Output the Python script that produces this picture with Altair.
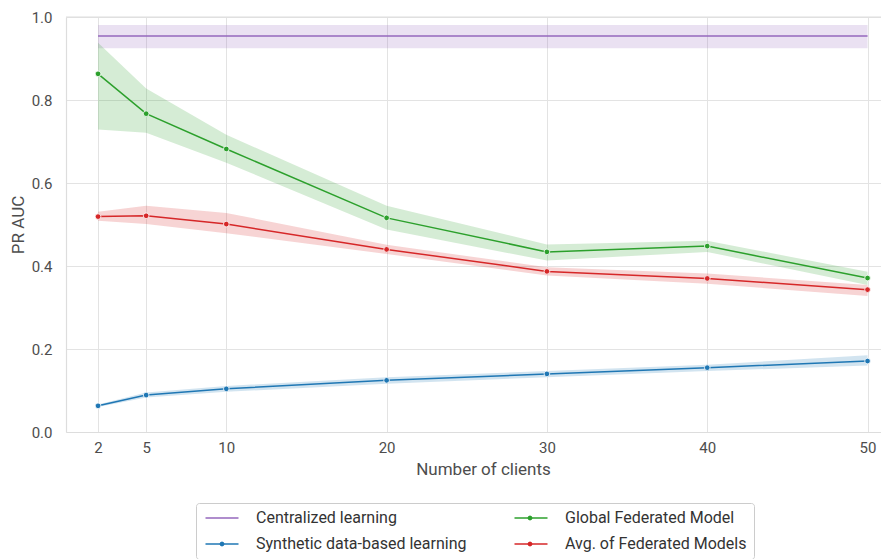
import altair as alt
import pandas as pd

clients = [2, 5, 10, 20, 30, 40, 50]

series_names = [
    "Centralized learning",
    "Synthetic data-based learning",
    "Global Federated Model",
    "Avg. of Federated Models",
]
series_colors = ["#9467bd", "#1f77b4", "#2ca02c", "#d62728"]

central_mean = [0.954, 0.954, 0.954, 0.954, 0.954, 0.954, 0.954]
central_lo = [0.925, 0.925, 0.925, 0.925, 0.925, 0.925, 0.925]
central_hi = [0.981, 0.981, 0.981, 0.981, 0.981, 0.981, 0.981]

synth_mean = [0.063, 0.089, 0.104, 0.1245, 0.140, 0.155, 0.171]
synth_lo = [0.060, 0.083, 0.097, 0.116, 0.132, 0.147, 0.160]
synth_hi = [0.066, 0.095, 0.111, 0.132, 0.147, 0.162, 0.185]

global_mean = [0.863, 0.767, 0.682, 0.516, 0.434, 0.448, 0.371]
global_lo = [0.729, 0.721, 0.649, 0.488, 0.413, 0.434, 0.354]
global_hi = [0.938, 0.828, 0.716, 0.545, 0.452, 0.461, 0.386]

avg_mean = [0.519, 0.521, 0.501, 0.440, 0.387, 0.370, 0.343]
avg_lo = [0.509, 0.501, 0.479, 0.429, 0.377, 0.357, 0.328]
avg_hi = [0.531, 0.545, 0.528, 0.451, 0.397, 0.382, 0.354]

y_ticks = [0.0, 0.2, 0.4, 0.6, 0.8, 1.0]
x_domain = [0, 50.84]

rows = []
for name, m, lo, hi in [
    (series_names[0], central_mean, central_lo, central_hi),
    (series_names[1], synth_mean, synth_lo, synth_hi),
    (series_names[2], global_mean, global_lo, global_hi),
    (series_names[3], avg_mean, avg_lo, avg_hi),
]:
    for c, a, b, d in zip(clients, m, lo, hi):
        rows.append({"series": name, "clients": c, "mean": a, "lo": b, "hi": d})
df = pd.DataFrame(rows)

FONT = "Roboto"
TXT = "#4d4d4d"

# line colours (legend order)
sscale = alt.Scale(domain=series_names, range=series_colors)
# band colours and opacities: same mapping, listed in reverse (no legend)
rev_names = series_names[::-1]
bscale = alt.Scale(domain=rev_names, range=series_colors[::-1])
oscale = alt.Scale(domain=rev_names, range=[0.2, 0.2, 0.2, 0.07])
# marker fill scale: same colours in another order (centralized has no markers)
fscale = alt.Scale(
    domain=[series_names[1], series_names[2], series_names[3], series_names[0]],
    range=[series_colors[1], series_colors[2], series_colors[3], "rgba(0,0,0,0)"],
)
xscale = alt.Scale(domain=x_domain, nice=False, zero=False)
yscale = alt.Scale(domain=[0, 1], nice=False)

x_axis = alt.Axis(
    values=clients,
    title="Number of clients",
    titleX=417,
    titlePadding=6,
    labelPadding=8,
)
y_axis = alt.Axis(values=y_ticks, format=".1f", title="PR AUC", labelPadding=14, titlePadding=4)

X = alt.X("clients:Q", scale=xscale, axis=x_axis)

legend_common = dict(
    title=None,
    orient="none",
    legendX=130,
    legendY=486,
    direction="vertical",
    columns=2,
    values=series_names,
    symbolSize=121,
    symbolOffset=11,
    labelOffset=26,
    labelLimit=400,
    columnPadding=44,
    rowPadding=10,
    padding=7,
    labelFontSize=16,
    labelFont=FONT,
)

legend_lines = alt.Legend(
    symbolType="M-3,0H3",
    symbolStrokeWidth=1.5,
    symbolOpacity=1,
    fillColor="white",
    strokeColor="#cccccc",
    cornerRadius=3,
    labelColor="#333333",
    **legend_common,
)

dot = "M0.45,0L0.32,0.32L0,0.45L-0.32,0.32L-0.45,0L-0.32,-0.32L0,-0.45L0.32,-0.32Z"
legend_dots = alt.Legend(
    symbolType=dot,
    symbolStrokeWidth=0,
    symbolOpacity=1,
    labelOpacity=0,
    **legend_common,
)

band = (
    alt.Chart(df)
    .mark_area()
    .encode(
        x=X,
        y=alt.Y("lo:Q", scale=yscale, axis=y_axis),
        y2="hi:Q",
        color=alt.Color("series:N", scale=bscale, legend=None),
        opacity=alt.Opacity("series:N", scale=oscale, legend=None),
    )
)

line = (
    alt.Chart(df)
    .mark_line(strokeWidth=1.5)
    .encode(
        x=X,
        y=alt.Y("mean:Q", scale=yscale, axis=y_axis),
        stroke=alt.Stroke("series:N", scale=sscale, legend=legend_lines),
    )
)

points = (
    alt.Chart(df)
    .transform_filter(alt.datum.series != "Centralized learning")
    .mark_point(filled=True, size=32, stroke="white", strokeWidth=0.8, opacity=1)
    .encode(
        x=X,
        y=alt.Y("mean:Q", scale=yscale, axis=y_axis),
        fill=alt.Fill("series:N", scale=fscale, legend=legend_dots),
    )
)

# top frame line at the top of the y domain
frame_top = (
    alt.Chart(df)
    .transform_aggregate(n="count()")
    .mark_rule(color="#dddddd", strokeWidth=1.2)
    .encode(
        x=alt.datum(x_domain[0], scale=xscale),
        x2=alt.datum(x_domain[1]),
        y=alt.datum(1.0, scale=yscale),
    )
)

chart = (
    alt.layer(band, line, points, frame_top)
    .properties(
        width=815,
        height=415,
        autosize=alt.AutoSizeParams(type="none"),
        padding={"left": 58, "top": 9, "right": 0, "bottom": 127},
    )
    .configure_view(stroke=None)
    .configure_axis(
        domainColor="#dddddd",
        domainWidth=1.2,
        gridColor="#e3e3e3",
        gridWidth=1,
        ticks=False,
        labelFont=FONT,
        labelFontSize=15,
        labelColor=TXT,
        titleFont=FONT,
        titleFontSize=17,
        titleFontWeight="normal",
        titleColor=TXT,
    )
)

chart.save("out.html", embed_options={"renderer": "svg", "actions": False})
